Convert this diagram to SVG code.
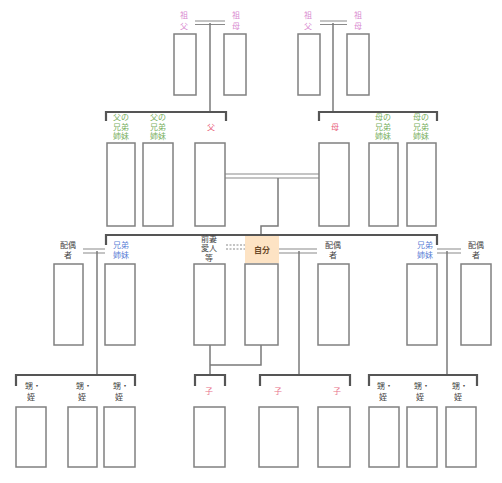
<svg xmlns="http://www.w3.org/2000/svg" width="502" height="483" viewBox="0 0 502 483">
<style>
.box{fill:#fff;stroke:#808080;stroke-width:1.5}
.ln{fill:none;stroke:#7a7a7a;stroke-width:1.5}
.br{fill:none;stroke:#555;stroke-width:2.2}
.dl{fill:none;stroke:#8a8a8a;stroke-width:1.2}
.dd{fill:none;stroke:#8a8a8a;stroke-width:1.2;stroke-dasharray:2 1.5}
text{font-family:"Noto Sans CJK JP","Noto Sans CJK SC",sans-serif;font-size:8px;text-anchor:middle}
.gp{fill:#d98ad0}
.pr{fill:#e8607a}
.gr{fill:#78b060}
.bl{fill:#5a7fd6}
.bk{fill:#444}
.ch{fill:#e8708a}
</style>
<rect width="502" height="483" fill="#fff"/>
<g id="connectors">
<path class="dl" d="M195 21H225M195 24.5H225"/>
<path class="ln" d="M210 23V112"/>
<path class="dl" d="M320 21H347M320 24.5H347"/>
<path class="ln" d="M333 23V112"/>
<path class="br" d="M106 121V112H226V121"/>
<path class="br" d="M319 121V112H437V121"/>
<path class="dl" d="M225 174H319M225 178H319"/>
<path class="ln" d="M278 178V226H261V235"/>
<path class="br" d="M106 245V235H437V245"/>
<path class="dl" d="M83 249H105M83 253H105"/>
<path class="ln" d="M97 251V375"/>
<path class="dd" d="M226 245H245M226 249H245"/>
<path class="dl" d="M279 249H317M279 253H317"/>
<path class="ln" d="M299 251V375"/>
<path class="dl" d="M437 249H461M437 253H461"/>
<path class="ln" d="M447 251V375"/>
<path class="ln" d="M210 345V375M261 345V365H210"/>
<path class="br" d="M16 386V375H135V386"/>
<path class="br" d="M195 386V375H225V386"/>
<path class="br" d="M260 386V375H350V386"/>
<path class="br" d="M369 386V375H477V386"/>
</g>
<g id="sofu-l"><text class="gp" x="184" y="18">祖</text><text class="gp" x="184" y="29">父</text><rect class="box" x="174" y="34" width="22" height="61"/></g>
<g id="sobo-l"><text class="gp" x="236" y="18">祖</text><text class="gp" x="236" y="29">母</text><rect class="box" x="224" y="34" width="22" height="61"/></g>
<g id="sofu-r"><text class="gp" x="308" y="18">祖</text><text class="gp" x="308" y="29">父</text><rect class="box" x="298" y="34" width="22" height="61"/></g>
<g id="sobo-r"><text class="gp" x="358" y="18">祖</text><text class="gp" x="358" y="29">母</text><rect class="box" x="347" y="34" width="22" height="61"/></g>
<g id="chichi-kyodai1"><text class="gr" x="121" y="120">父の</text><text class="gr" x="121" y="129.5">兄弟</text><text class="gr" x="121" y="139">姉妹</text><rect class="box" x="107" y="143" width="28" height="83"/></g>
<g id="chichi-kyodai2"><text class="gr" x="158" y="120">父の</text><text class="gr" x="158" y="129.5">兄弟</text><text class="gr" x="158" y="139">姉妹</text><rect class="box" x="143" y="143" width="30" height="83"/></g>
<g id="chichi"><text class="pr" x="211" y="130">父</text><rect class="box" x="195" y="143" width="30" height="83"/></g>
<g id="haha"><text class="pr" x="335" y="130">母</text><rect class="box" x="319" y="143" width="30" height="83"/></g>
<g id="haha-kyodai1"><text class="gr" x="383" y="120">母の</text><text class="gr" x="383" y="129.5">兄弟</text><text class="gr" x="383" y="139">姉妹</text><rect class="box" x="369" y="143" width="29" height="83"/></g>
<g id="haha-kyodai2"><text class="gr" x="421" y="120">母の</text><text class="gr" x="421" y="129.5">兄弟</text><text class="gr" x="421" y="139">姉妹</text><rect class="box" x="407" y="143" width="29" height="83"/></g>
<g id="haigusha-l"><text class="bk" x="68" y="247.5">配偶</text><text class="bk" x="68" y="258">者</text><rect class="box" x="54" y="264" width="29" height="81"/></g>
<g id="kyodai-l"><text class="bl" x="121" y="247.5">兄弟</text><text class="bl" x="121" y="258">姉妹</text><rect class="box" x="105" y="264" width="30" height="81"/></g>
<g id="zensai"><text class="bk" x="209" y="241.5">前妻</text><text class="bk" x="209" y="251">愛人</text><text class="bk" x="209" y="260.5">等</text><rect class="box" x="194" y="264" width="31" height="81"/></g>
<g id="jibun"><rect x="245" y="236" width="34" height="27" fill="#fde3c4"/><text x="262" y="253" fill="#6a4a2a" font-weight="bold" font-size="9">自分</text><rect class="box" x="245" y="264" width="33" height="81"/></g>
<g id="haigusha-c"><text class="bk" x="333" y="247.5">配偶</text><text class="bk" x="333" y="258">者</text><rect class="box" x="318" y="264" width="31" height="81"/></g>
<g id="kyodai-r"><text class="bl" x="425" y="247.5">兄弟</text><text class="bl" x="425" y="258">姉妹</text><rect class="box" x="407" y="264" width="30" height="81"/></g>
<g id="haigusha-r"><text class="bk" x="476" y="247.5">配偶</text><text class="bk" x="476" y="258">者</text><rect class="box" x="461" y="264" width="30" height="81"/></g>
<g id="oimei-1"><text class="bk" x="33" y="388.5">甥・</text><text class="bk" x="31" y="400">姪</text><rect class="box" x="16" y="407" width="30" height="60"/></g>
<g id="oimei-2"><text class="bk" x="84" y="388.5">甥・</text><text class="bk" x="82" y="400">姪</text><rect class="box" x="68" y="407" width="29" height="60"/></g>
<g id="oimei-3"><text class="bk" x="121" y="388.5">甥・</text><text class="bk" x="119" y="400">姪</text><rect class="box" x="104" y="407" width="31" height="60"/></g>
<g id="ko-1"><text class="ch" x="209" y="394">子</text><rect class="box" x="194" y="407" width="31" height="60"/></g>
<g id="ko-2"><text class="ch" x="278" y="394">子</text><rect class="box" x="259" y="407" width="39" height="60"/></g>
<g id="ko-3"><text class="ch" x="337" y="394">子</text><rect class="box" x="318" y="407" width="32" height="60"/></g>
<g id="oimei-4"><text class="bk" x="385" y="388.5">甥・</text><text class="bk" x="383" y="400">姪</text><rect class="box" x="369" y="407" width="30" height="60"/></g>
<g id="oimei-5"><text class="bk" x="422" y="388.5">甥・</text><text class="bk" x="420" y="400">姪</text><rect class="box" x="407" y="407" width="30" height="60"/></g>
<g id="oimei-6"><text class="bk" x="460" y="388.5">甥・</text><text class="bk" x="458" y="400">姪</text><rect class="box" x="446" y="407" width="30" height="60"/></g>
</svg>
